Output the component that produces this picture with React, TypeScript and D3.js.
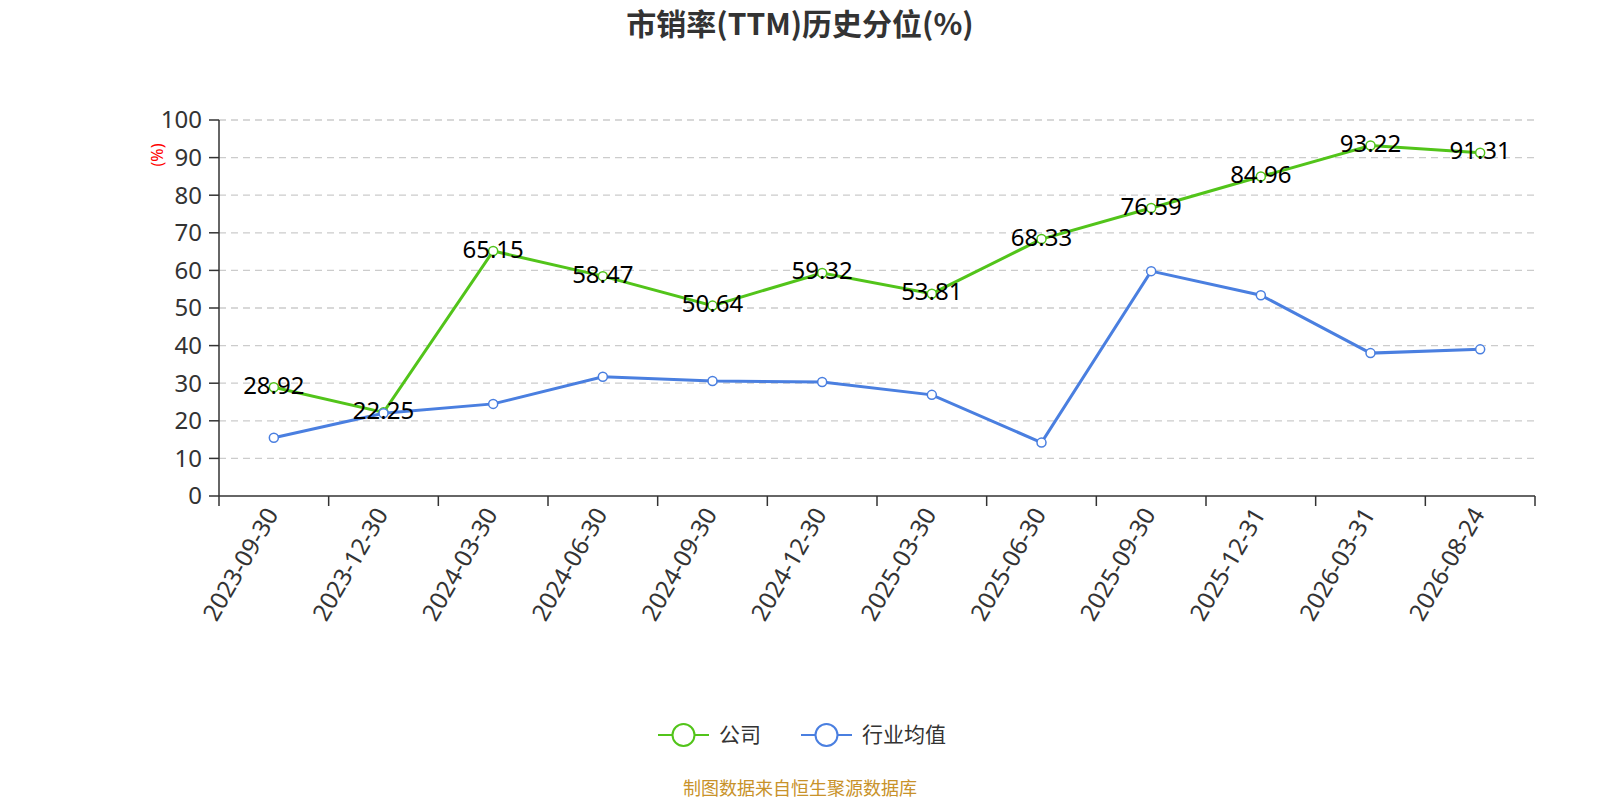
import React from "react";
import * as d3 from "d3";

const categories = ["2023-09-30","2023-12-30","2024-03-30","2024-06-30","2024-09-30","2024-12-30","2025-03-30","2025-06-30","2025-09-30","2025-12-31","2026-03-31","2026-08-24"];
const companyValues = [28.92,22.25,65.15,58.47,50.64,59.32,53.81,68.33,76.59,84.96,93.22,91.31];
const industryValues = [15.5,22.0,24.5,31.7,30.6,30.3,26.9,14.2,59.8,53.4,38.0,39.0];
const yTicks = [0,10,20,30,40,50,60,70,80,90,100];
const seriesNames = ["公司","行业均值"];
const titleText = "市销率(TTM)历史分位(%)";
const sourceText = "制图数据来自恒生聚源数据库";

const W = 1600, H = 800;
const left = 219, right = 1535, top = 120, bottom = 496;
const GREEN = "#52c41a";
const BLUE = "#4a7fe0";
const FONT = "'Noto Sans', 'Noto Sans CJK SC', sans-serif";
const CJK = "'Noto Sans CJK SC', 'Noto Sans', sans-serif";

export default function App() {
  const x = d3.scaleBand<string>().domain(categories).range([left, right]);
  const y = d3.scaleLinear().domain([0, 100]).range([bottom, top]);
  const cx = (c: string) => (x(c) as number) + x.bandwidth() / 2;
  const line = d3.line<number>().x((_, i) => cx(categories[i])).y((v) => y(v));
  const boundaries = categories.map((c) => x(c) as number).concat([right]);

  const series = [
    { name: seriesNames[0], values: companyValues, color: GREEN },
    { name: seriesNames[1], values: industryValues, color: BLUE },
  ];

  return (
    <svg width={W} height={H} style={{ position: "absolute", left: 0, top: 0, fontFamily: FONT }}>
      <rect width={W} height={H} fill="#fff" />
      <text x={800} y={35} textAnchor="middle" fontSize={30} fontWeight="bold" fill="#333" fontFamily={CJK}>{titleText}</text>
      {yTicks.map((t) => (
        <g key={t}>
          {t > 0 && <line x1={left} x2={right} y1={y(t)} y2={y(t)} stroke="#ccc" strokeDasharray="7,5" strokeWidth={1.3} />}
          <line x1={left - 10} x2={left} y1={y(t)} y2={y(t)} stroke="#333" strokeWidth={1.5} />
          <text x={left - 17} y={y(t)} dy="0.35em" textAnchor="end" fontSize={24} fill="#333">{t}</text>
        </g>
      ))}
      <text transform={`translate(163,155) rotate(-90)`} textAnchor="middle" fontSize={16} fill="red">(%)</text>
      <line x1={left} x2={left} y1={top} y2={bottom} stroke="#333" strokeWidth={1.5} />
      <line x1={left} x2={right} y1={bottom} y2={bottom} stroke="#333" strokeWidth={1.5} />
      {boundaries.map((b, i) => (
        <line key={i} x1={b} x2={b} y1={bottom} y2={bottom + 10} stroke="#333" strokeWidth={1.5} />
      ))}
      {categories.map((c) => (
        <text key={c} transform={`translate(${cx(c) - 2},${bottom + 14}) rotate(-60)`} textAnchor="end" dy="0.35em" fontSize={24} fill="#333">{c}</text>
      ))}
      {series.map((s) => (
        <g key={s.name}>
          <path d={line(s.values) || ""} fill="none" stroke={s.color} strokeWidth={3} />
          {s.values.map((v, i) => (
            <circle key={i} cx={cx(categories[i])} cy={y(v)} r={4.5} fill="#fff" stroke={s.color} strokeWidth={1.5} />
          ))}
        </g>
      ))}
      {companyValues.map((v, i) => (
        <text key={i} x={cx(categories[i])} y={y(v) - 3} dominantBaseline="central" textAnchor="middle" fontSize={24} fill="#000">{v.toFixed(2)}</text>
      ))}
      {series.map((s, i) => {
        const lx = i === 0 ? 658 : 801;
        return (
          <g key={s.name}>
            <line x1={lx} x2={lx + 51} y1={735} y2={735} stroke={s.color} strokeWidth={2} />
            <circle cx={lx + 25.5} cy={735} r={11} fill="#fff" stroke={s.color} strokeWidth={2} />
            <text x={lx + 61} y={735} dy="0.35em" fontSize={21} fill="#333" fontFamily={CJK}>{s.name}</text>
          </g>
        );
      })}
      <text x={800} y={789} dy="0.35em" textAnchor="middle" fontSize={18} fill="#c8922a" fontFamily={CJK}>{sourceText}</text>
    </svg>
  );
}
